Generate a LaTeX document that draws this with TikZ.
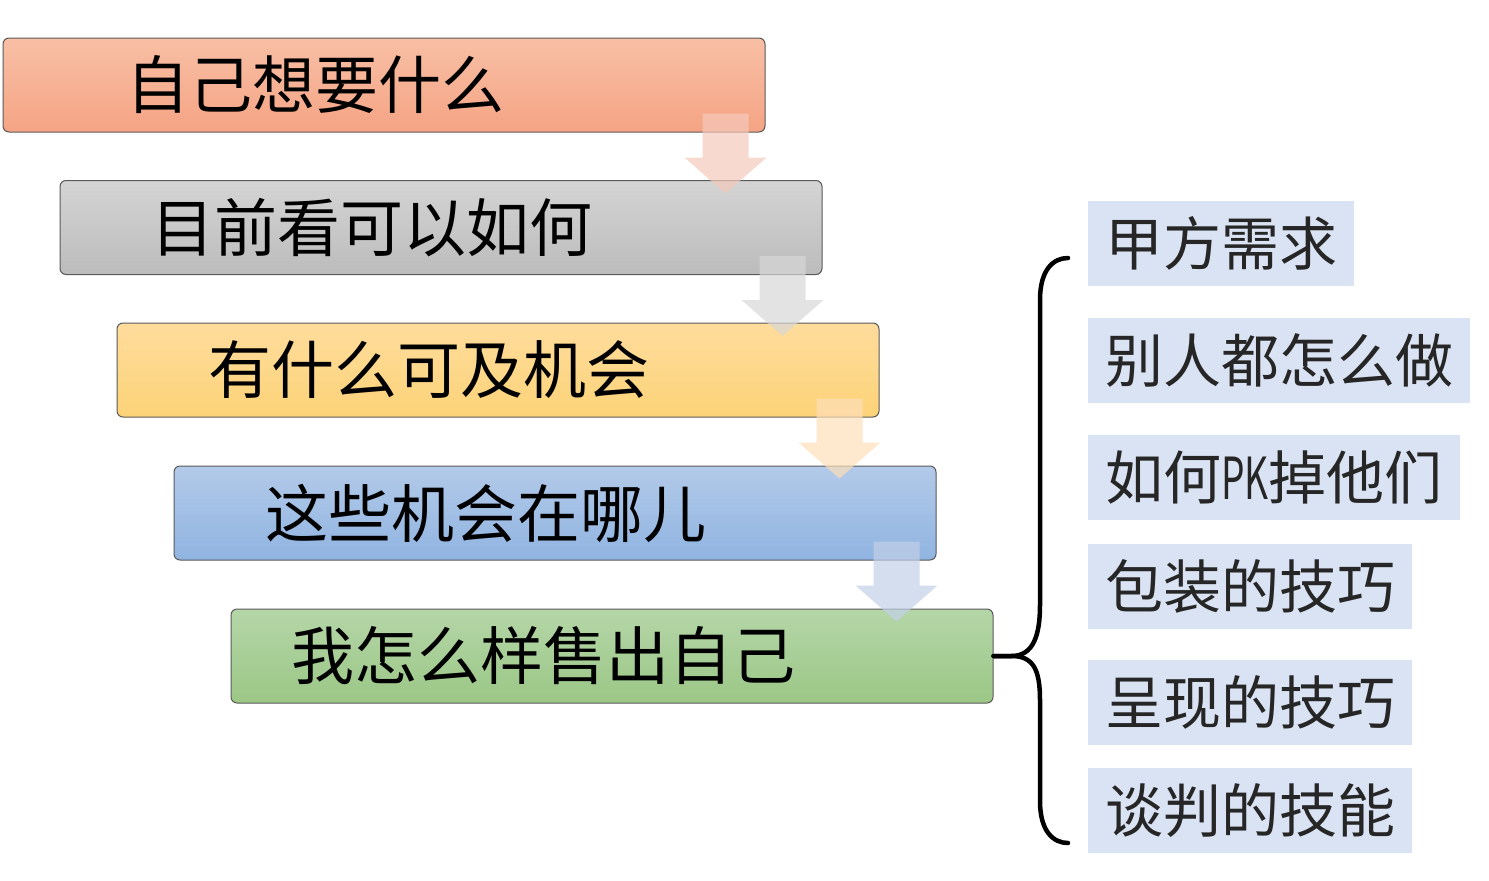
\documentclass[tikz,border=0pt]{standalone}
\usepackage{fontspec}
\setmainfont{Noto Sans CJK SC}
\usepackage{tikz}

\definecolor{boxAtop}{HTML}{F8BFA5}
\definecolor{boxAbot}{HTML}{F5A484}
\definecolor{boxBtop}{HTML}{D4D4D4}
\definecolor{boxBbot}{HTML}{BCBCBC}
\definecolor{boxCtop}{HTML}{FEDC9C}
\definecolor{boxCbot}{HTML}{FDD378}
\definecolor{boxDtop}{HTML}{B3CAE9}
\definecolor{boxDbot}{HTML}{90B4E1}
\definecolor{boxEtop}{HTML}{B5D6A8}
\definecolor{boxEbot}{HTML}{9BC786}
\definecolor{arrA}{RGB}{245,201,188}
\definecolor{arrB}{RGB}{215,215,215}
\definecolor{arrC}{RGB}{253,222,185}
\definecolor{arrD}{RGB}{195,208,232}
\definecolor{tagfill}{HTML}{DAE3F3}
\definecolor{tagtext}{HTML}{262626}
\definecolor{edge}{HTML}{595959}

\tikzset{
  stepbox/.style={draw=edge, line width=1pt, rounded corners=6pt,
    minimum width=762pt, minimum height=94pt, inner sep=0pt},
  steptext/.style={font=\fontsize{63pt}{70pt}\selectfont, inner sep=0pt},
  tagbox/.style={fill=tagfill, text=tagtext, anchor=west,
    font=\fontsize{58pt}{64pt}\selectfont, inner xsep=17pt, inner ysep=0pt,
    minimum height=85pt},
  bracestroke/.style={line width=4.5pt, line cap=round}
}

\begin{document}
\begin{tikzpicture}[x=1pt, y=-1pt]
				\useasboundingbox (0,0) rectangle (1489,881);
				% steps (stair going down to the right)
				\foreach \i/\x/\y/\c/\t in
				{1/384/85/A/自己想要什么, 2/441/227.5/B/目前看可以如何, 3/498/370/C/有什么可及机会,
				 4/555/513/D/这些机会在哪儿, 5/612/656/E/我怎么样售出自己}{
					\node[stepbox, top color=box\c top, bottom color=box\c bot] (b\i) at (\x,\y) {};
					\node[steptext] (t\i) at ([xshift=-69pt]b\i.center) {\t};
				}
				
				% block arrows between the steps
				\foreach \i/\c in
				{1/A, 2/B, 3/C, 4/D}{
					\fill[arr\c, opacity=.7, shift={(b\i.south east)}]
						(-63,-19) -- (-17,-19) -- (-17,25) -- (1,25) -- (-40,61)
						-- (-81,25) -- (-63,25) -- cycle;
				}
				
				% brace
				\coordinate (bt) at (1068,258);
				\coordinate (bb) at (1068,843);
				\draw[bracestroke] (b5.east) -- ++(18,0) .. controls +(22,0) and +(0,30) .. (1040,605)
					-- (1040,300) .. controls +(0,-30) and +(-15,0) .. (bt);
				\draw[bracestroke] (b5.east) -- ++(18,0) .. controls +(22,0) and +(0,-30) .. (1040,700)
					-- (1040,801) .. controls +(0,30) and +(-15,0) .. (bb);
				
				% items right of the brace
				\foreach \n/\y/\t in
				{1/243.5/甲方需求, 2/360.5/别人都怎么做, 3/477.5/如何\scalebox{0.64}[1]{PK}掉他们,
				 4/586.5/包装的技巧, 5/702/呈现的技巧, 6/810.5/谈判的技能}{
					\node[tagbox] (r\n) at (1088,\y) {\t};
				}
\end{tikzpicture}
\end{document}
